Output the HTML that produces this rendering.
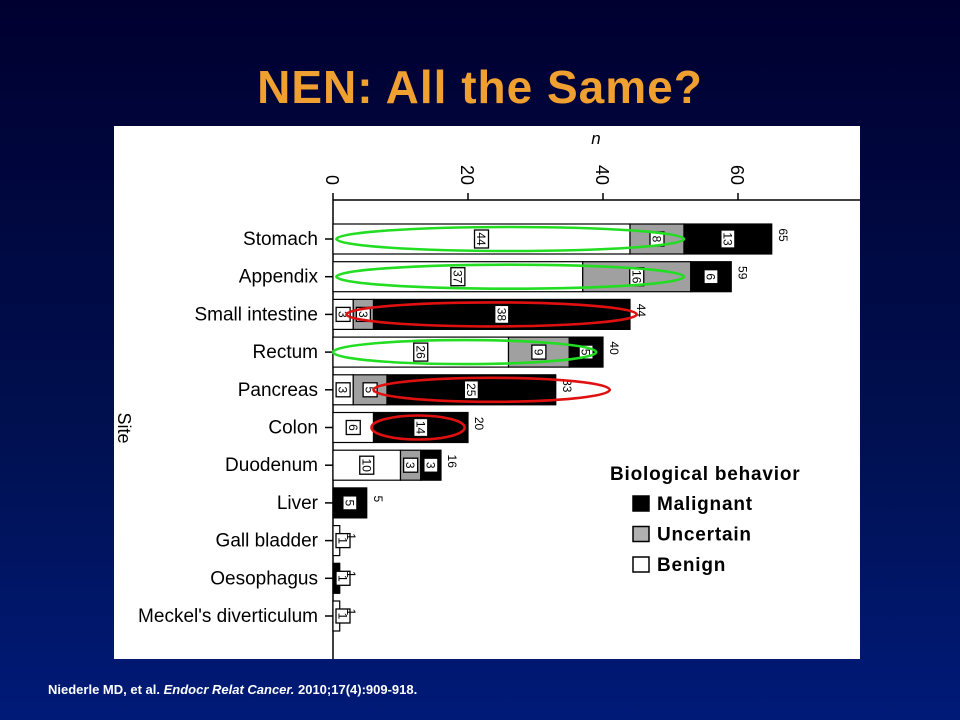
<!DOCTYPE html>
<html><head><meta charset="utf-8"><style>
html,body{margin:0;padding:0;width:960px;height:720px;overflow:hidden}
body{background:linear-gradient(#000030 0%,#001050 60%,#001a78 100%);font-family:"Liberation Sans",sans-serif;position:relative}
#title{position:absolute;left:0;width:960px;top:60px;text-align:center;color:#f0a030;font-weight:bold;font-size:46px;letter-spacing:1px;margin:0;line-height:54px}
#cite{position:absolute;left:48px;top:682px;color:#fff;font-weight:bold;font-size:13px}
svg{position:absolute;left:0;top:0}
</style></head><body>
<h1 id="title">NEN: All the Same?</h1>
<svg id="chart" width="960" height="720"></svg>
<div id="cite">Niederle MD, et al. <i>Endocr Relat Cancer.</i> 2010;17(4):909-918.</div>
<script>
const sites=["Stomach","Appendix","Small intestine","Rectum","Pancreas","Colon","Duodenum","Liver","Gall bladder","Oesophagus","Meckel's diverticulum"];
const benign=[44,37,3,26,3,6,10,0,1,0,1];
const uncertain=[8,16,3,9,5,0,3,0,0,0,0];
const malignant=[13,6,38,5,25,14,3,5,0,1,0];
const ticks=[0,20,40,60];
const ellipses=[[0,"#22dd22"],[1,"#22dd22"],[2,"#e01010"],[3,"#22dd22"],[4,"#e01010"],[5,"#e01010"]];
const ellX=[[0.5,52],[0.5,52],[2,45],[0,39],[6,41],[5.7,19.5]];

const NS="http://www.w3.org/2000/svg",svg=document.getElementById('chart');
const x0=333,k=6.75,y0=239,dy=37.7,bh=30;
const X=v=>x0+v*k, Y=i=>y0+i*dy;
function el(t,a,p){const e=document.createElementNS(NS,t);for(const n in a)e.setAttribute(n,a[n]);(p||svg).appendChild(e);return e;}
const bg=el('rect',{x:114,y:126,width:746,height:533,fill:'#fff'});


const ax=el('line',{x1:x0,y1:200,x2:860,y2:200,stroke:'#000','stroke-width':1.5});


const ay=el('line',{x1:x0,y1:200,x2:x0,y2:659,stroke:'#000','stroke-width':1.5});


ticks.forEach(t=>{
  el('line',{x1:X(t),y1:193,x2:X(t),y2:200,stroke:'#000','stroke-width':1.5});
  const tx=el('text',{x:0,y:0,transform:`translate(${X(t)-7},${185}) rotate(90)`,'font-size':18,'text-anchor':'end'});
  tx.textContent=t;
  
  
});
const nt=el('text',{x:596,y:144,'font-size':17,'font-style':'italic','text-anchor':'middle'});nt.textContent='n';


const st=el('text',{x:0,y:0,transform:'translate(118,428) rotate(90)','font-size':18,'text-anchor':'middle'});st.textContent='Site';


function box(cx,cy,v){
  const g=el('g',{});
  const s=String(v);const bw=s.length>1?18:14;const bh2=14;
  el('rect',{x:cx-bh2/2,y:cy-bw/2,width:bh2,height:bw,fill:'#fff',stroke:'#000','stroke-width':1.3},g);
  const t=el('text',{x:0,y:0,transform:`translate(${cx-4.5},${cy}) rotate(90)`,'font-size':12,'text-anchor':'middle'},g);t.textContent=s;
  return g;
}
sites.forEach((s,i)=>{
  const y=Y(i);
  const lab=el('text',{x:318,y:y+6,'font-size':19,'text-anchor':'end'});lab.textContent=s;
  
  
  el('line',{x1:325,y1:y,x2:x0,y2:y,stroke:'#000','stroke-width':1.5});
  const vals=[benign[i],uncertain[i],malignant[i]],fills=['#fff','#a0a0a0','#000'],names=['benign','uncertain','malignant'];
  let acc=0;const tot=vals[0]+vals[1]+vals[2];
  const small=tot<=1;
  vals.forEach((v,j)=>{
    if(!v)return;
    const r=el('rect',{x:X(acc),y:y-bh/2,width:v*k,height:bh,fill:fills[j],stroke:'#000','stroke-width':1.2});
    
    
    acc+=v;
  });
  acc=0;
  vals.forEach((v,j)=>{
    if(!v)return;
    const cx=small?X(0)+10:X(acc+v/2);
    const b=box(cx,y,v);
    
    
    acc+=v;
  });
  const tl=el('text',{x:0,y:0,transform:`translate(${X(tot)+7},${y-4}) rotate(90)`,'font-size':12,'text-anchor':'middle'});tl.textContent=tot;
  
  
});
ellipses.forEach((e,n)=>{
  const [i,c]=e,[a,b]=ellX[n];
  const el2=el('ellipse',{cx:(X(a)+X(b))/2,cy:Y(i),rx:(X(b)-X(a))/2,ry:12,fill:'none',stroke:c,'stroke-width':2.6});
  
  
});
const lg=el('g',{});


const lt=el('text',{x:610,y:480,'font-size':19,'font-weight':'bold','letter-spacing':0.8},lg);lt.textContent='Biological  behavior';
[['Malignant','#000'],['Uncertain','#b0b0b0'],['Benign','#fff']].forEach((d,j)=>{
  const yy=504+j*30.5;
  el('rect',{x:633,y:yy-8,width:16,height:15,fill:d[1],stroke:'#000','stroke-width':1.5},lg);
  const t=el('text',{x:657,y:yy+6,'font-size':19,'font-weight':'bold','letter-spacing':0.8},lg);t.textContent=d[0];
  
  
});
</script>
</body></html>
